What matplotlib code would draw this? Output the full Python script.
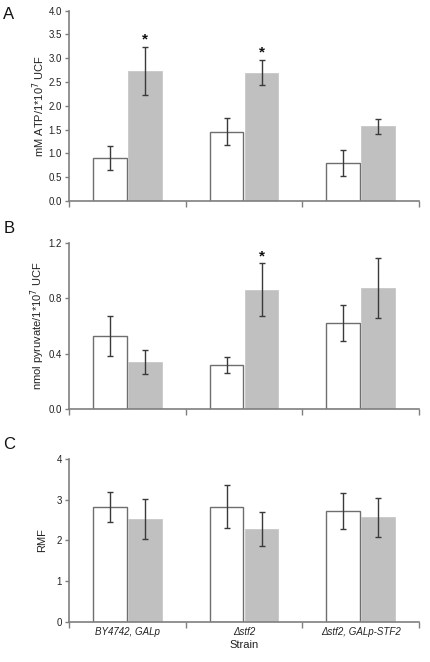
import matplotlib
matplotlib.use("Agg")
import matplotlib.pyplot as plt
import numpy as np

plt.rcParams['font.family'] = ['Liberation Sans', 'DejaVu Sans']

strains = ["BY4742, GALp", "Δstf2", "Δstf2, GALp-STF2"]

atp_white = [0.90, 1.46, 0.80]
atp_white_err = [0.25, 0.29, 0.28]
atp_gray = [2.73, 2.70, 1.57]
atp_gray_err = [0.51, 0.27, 0.16]
atp_sig = [True, True, False]

pyr_white = [0.53, 0.32, 0.62]
pyr_white_err = [0.145, 0.057, 0.128]
pyr_gray = [0.34, 0.86, 0.875]
pyr_gray_err = [0.087, 0.19, 0.215]
pyr_sig = [False, True, False]

rmf_white = [2.83, 2.83, 2.73]
rmf_white_err = [0.37, 0.53, 0.45]
rmf_gray = [2.52, 2.28, 2.57]
rmf_gray_err = [0.49, 0.41, 0.48]

panels = [
    dict(letter="A", white=atp_white, werr=atp_white_err, gray=atp_gray, gerr=atp_gray_err,
         sig=atp_sig, ylim=(0, 4.0), yticks=np.arange(0, 4.01, 0.5), fmt="{:.1f}",
         ylabel=r"mM ATP/1*10$^{7}$ UCF", rect=(0.1605, 0.6964, 0.814, 0.2875)),
    dict(letter="B", white=pyr_white, werr=pyr_white_err, gray=pyr_gray, gerr=pyr_gray_err,
         sig=pyr_sig, ylim=(0, 1.2), yticks=[0.0, 0.4, 0.8, 1.2], fmt="{:.1f}",
         ylabel=r"nmol pyruvate/1*10$^{7}$ UCF", rect=(0.1605, 0.3817, 0.814, 0.2518)),
    dict(letter="C", white=rmf_white, werr=rmf_white_err, gray=rmf_gray, gerr=rmf_gray_err,
         sig=[False, False, False], ylim=(0, 4), yticks=[0, 1, 2, 3, 4], fmt="{:.0f}",
         ylabel="RMF", rect=(0.1605, 0.0609, 0.814, 0.2453)),
]

fig = plt.figure(figsize=(4.30, 6.62), dpi=100)
spine_c = "#7f7f7f"
err_c = "#3a3a3a"
x = np.arange(len(strains))
off = 0.15
bw = 0.29

letter_y = [0.978, 0.655, 0.328]
for p, ly in zip(panels, letter_y):
    ax = fig.add_axes(p["rect"])
    ax.bar(x - off, p["white"], bw, color="white", edgecolor="#6e6e6e", linewidth=1.0, zorder=2)
    ax.bar(x + off, p["gray"], bw, color="#c0c0c0", edgecolor="#c8c8c8", linewidth=0.6, zorder=2)
    ax.errorbar(x - off, p["white"], yerr=p["werr"], fmt="none", ecolor=err_c,
                elinewidth=1.0, capsize=2.5, capthick=1.0, zorder=3)
    ax.errorbar(x + off, p["gray"], yerr=p["gerr"], fmt="none", ecolor=err_c,
                elinewidth=1.0, capsize=2.5, capthick=1.0, zorder=3)
    for i, s in enumerate(p["sig"]):
        if s:
            ax.text(x[i] + off, p["gray"][i] + p["gerr"][i], "*", ha="center", va="bottom",
                    fontsize=11, fontweight="bold", color="#111111")
    ax.set_xlim(-0.5, 2.5)
    ax.set_ylim(*p["ylim"])
    ax.set_yticks(p["yticks"])
    ax.set_yticklabels([p["fmt"].format(v) for v in p["yticks"]], fontsize=7, color="#222222")
    ax.set_xticks([-0.5, 0.5, 1.5, 2.5])
    ax.set_xticklabels([])
    ax.tick_params(axis="x", direction="out", length=4, color=spine_c, width=1.0)
    ax.tick_params(axis="y", direction="out", length=3, color=spine_c, width=1.0, pad=2)
    for sp in ("top", "right"):
        ax.spines[sp].set_visible(False)
    for sp in ("left", "bottom"):
        ax.spines[sp].set_color(spine_c)
        ax.spines[sp].set_linewidth(1.2)
    ax.set_ylabel(p["ylabel"], fontsize=8, color="#222222")
    ax.yaxis.set_label_coords(-0.063, 0.5)
    fig.text(0.008, ly, p["letter"], fontsize=12, color="#111111", ha="left", va="center")
    if p["letter"] == "C":
        ax.set_xticks(x, minor=True)
        ax.set_xticklabels(strains, minor=True, fontsize=7, style="italic", color="#222222")
        ax.tick_params(axis="x", which="minor", length=0, pad=4)
        ax.set_xlabel("Strain", fontsize=8, color="#222222", labelpad=2)

fig.savefig("out.png", dpi=100)
